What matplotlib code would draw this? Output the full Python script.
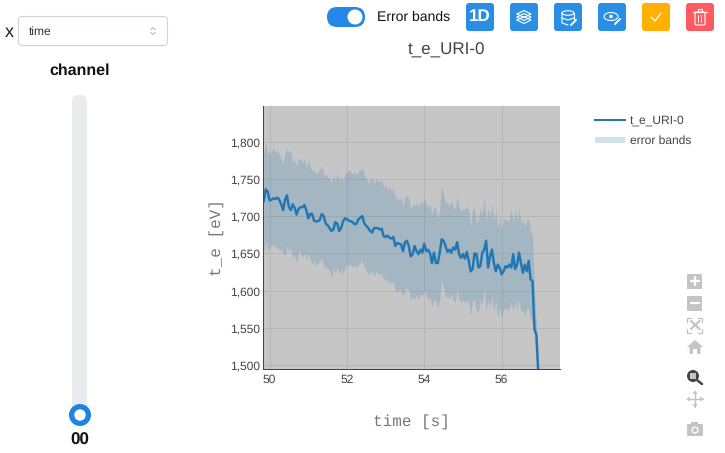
import matplotlib
matplotlib.use("Agg")
import matplotlib.pyplot as plt
import numpy as np
from matplotlib.patches import Circle, Ellipse, FancyBboxPatch, Polygon, Rectangle

plt.rcParams["font.family"] = ["Liberation Sans", "DejaVu Sans"]
plt.rcParams["text.hinting"] = "no_hinting"
plt.rcParams["text.hinting_factor"] = 1

# time grid of the trace, 49.85 .. 56.95 s
time_s = np.array([
    49.85, 49.90, 49.95, 50.00, 50.05, 50.10, 50.15, 50.20, 50.25, 50.30,
    50.35, 50.40, 50.45, 50.50, 50.55, 50.60, 50.65, 50.70, 50.75, 50.80,
    50.85, 50.90, 50.95, 51.00, 51.05, 51.10, 51.15, 51.20, 51.25, 51.30,
    51.35, 51.40, 51.45, 51.50, 51.55, 51.60, 51.65, 51.70, 51.75, 51.80,
    51.85, 51.90, 51.95, 52.00, 52.05, 52.10, 52.15, 52.20, 52.25, 52.30,
    52.35, 52.40, 52.45, 52.50, 52.55, 52.60, 52.65, 52.70, 52.75, 52.80,
    52.85, 52.90, 52.95, 53.00, 53.05, 53.10, 53.15, 53.20, 53.25, 53.30,
    53.35, 53.40, 53.45, 53.50, 53.55, 53.60, 53.65, 53.70, 53.75, 53.80,
    53.85, 53.90, 53.95, 54.00, 54.05, 54.10, 54.15, 54.20, 54.25, 54.30,
    54.35, 54.40, 54.45, 54.50, 54.55, 54.60, 54.65, 54.70, 54.75, 54.80,
    54.85, 54.90, 54.95, 55.00, 55.05, 55.10, 55.15, 55.20, 55.25, 55.30,
    55.35, 55.40, 55.45, 55.50, 55.55, 55.60, 55.65, 55.70, 55.75, 55.80,
    55.85, 55.90, 55.95, 56.00, 56.05, 56.10, 56.15, 56.20, 56.25, 56.30,
    56.35, 56.40, 56.45, 56.50, 56.55, 56.60, 56.65, 56.70, 56.75, 56.80,
    56.85, 56.90, 56.95,
])
t_e = np.array([
    1720, 1736, 1733, 1721, 1722, 1724, 1723, 1725, 1722, 1716,
    1708, 1722, 1728, 1712, 1708, 1716, 1711, 1702, 1710, 1712,
    1712, 1715, 1708, 1697, 1703, 1703, 1694, 1693, 1693, 1695,
    1703, 1700, 1690, 1688, 1684, 1680, 1682, 1692, 1690, 1680,
    1684, 1693, 1697, 1696, 1694, 1693, 1692, 1689, 1690, 1696,
    1698, 1700, 1690, 1687, 1684, 1680, 1678, 1684, 1684, 1684,
    1682, 1683, 1673, 1672, 1674, 1671, 1670, 1672, 1660, 1664,
    1663, 1662, 1653, 1665, 1667, 1660, 1646, 1649, 1660, 1653,
    1649, 1655, 1651, 1663, 1653, 1655, 1650, 1637, 1651, 1637,
    1637, 1651, 1669, 1667, 1660, 1652, 1655, 1651, 1658, 1655,
    1665, 1649, 1644, 1649, 1643, 1652, 1640, 1626, 1629, 1650,
    1649, 1631, 1633, 1651, 1655, 1667, 1631, 1646, 1655, 1637,
    1626, 1635, 1631, 1622, 1626, 1633, 1631, 1635, 1631, 1649,
    1629, 1635, 1651, 1637, 1624, 1635, 1626, 1640, 1615, 1613,
    1548, 1541, 1490,
])
t_e_upper = np.array([
    1785, 1798, 1785, 1785, 1787, 1791, 1786, 1788, 1783, 1776,
    1771, 1785, 1791, 1785, 1789, 1771, 1776, 1767, 1778, 1776,
    1771, 1778, 1765, 1776, 1767, 1760, 1762, 1756, 1760, 1762,
    1768, 1756, 1756, 1753, 1751, 1744, 1756, 1747, 1758, 1747,
    1753, 1747, 1756, 1760, 1761, 1759, 1756, 1759, 1756, 1760,
    1762, 1765, 1756, 1751, 1744, 1749, 1751, 1743, 1751, 1748,
    1746, 1749, 1738, 1742, 1735, 1740, 1733, 1738, 1726, 1723,
    1722, 1724, 1713, 1726, 1727, 1724, 1709, 1717, 1713, 1719,
    1713, 1720, 1717, 1724, 1717, 1713, 1715, 1702, 1712, 1711,
    1696, 1711, 1740, 1729, 1717, 1720, 1713, 1721, 1713, 1709,
    1726, 1713, 1705, 1711, 1709, 1713, 1709, 1686, 1711, 1709,
    1691, 1695, 1711, 1702, 1726, 1693, 1711, 1697, 1715, 1693,
    1709, 1684, 1700, 1682, 1695, 1697, 1693, 1695, 1709, 1691,
    1711, 1693, 1711, 1691, 1695, 1686, 1697, 1695, 1679, 1675,
    1600, 1555, 1505,
])
t_e_lower = np.array([
    1651, 1667, 1653, 1658, 1660, 1662, 1658, 1659, 1655, 1655,
    1651, 1646, 1662, 1651, 1658, 1642, 1649, 1637, 1653, 1651,
    1644, 1651, 1640, 1651, 1641, 1635, 1640, 1633, 1637, 1640,
    1644, 1632, 1633, 1629, 1628, 1617, 1631, 1622, 1633, 1622,
    1629, 1622, 1631, 1634, 1635, 1634, 1631, 1634, 1631, 1635,
    1637, 1640, 1632, 1626, 1621, 1625, 1626, 1619, 1626, 1623,
    1621, 1624, 1613, 1617, 1611, 1614, 1608, 1613, 1602, 1598,
    1602, 1600, 1591, 1602, 1604, 1600, 1586, 1593, 1588, 1595,
    1589, 1595, 1593, 1600, 1593, 1588, 1591, 1579, 1588, 1587,
    1576, 1588, 1614, 1604, 1591, 1593, 1588, 1595, 1588, 1584,
    1603, 1588, 1584, 1588, 1584, 1588, 1584, 1566, 1588, 1586,
    1571, 1573, 1588, 1582, 1604, 1573, 1588, 1577, 1593, 1573,
    1586, 1564, 1577, 1562, 1575, 1577, 1573, 1577, 1586, 1571,
    1588, 1573, 1588, 1571, 1575, 1566, 1577, 1575, 1562, 1557,
    1535, 1490, 1470,
])

x_ticks = [50, 52, 54, 56]
y_ticks = [1500, 1550, 1600, 1650, 1700, 1750, 1800]
y_tick_labels = ["1,500", "1,550", "1,600", "1,650", "1,700", "1,750", "1,800"]

LINE = "#1f77b4"
BLUE = "#2a8ee4"
ICON_GREY = "#c4c4c4"
TEXT_GREY = "#444444"
W, H = 725, 453

fig = plt.figure(figsize=(W / 100, H / 100), dpi=100)

# full-figure overlay in pixel coordinates, for the app controls around the plot
ui = fig.add_axes([0, 0, 1, 1])
ui.set_xlim(0, W)
ui.set_ylim(H, 0)
ui.axis("off")


def px(size):
    return size * 0.72


def rounded(x, y, w, h, r, **kw):
    ui.add_patch(FancyBboxPatch((x + r, y + r), w - 2 * r, h - 2 * r,
                                boxstyle=f"round,pad={r},rounding_size={r}", **kw))


def stroke(xs, ys, color="white", lw=1.0):
    ui.plot(xs, ys, color=color, lw=lw, solid_capstyle="round", solid_joinstyle="round")


# the plot itself
ax = fig.add_axes([263 / W, 1 - 368.7 / H, 297 / W, 263 / H])
ax.set_facecolor("#c6c6c6")
ax.fill_between(time_s, t_e_lower, t_e_upper, color=LINE, alpha=0.2, lw=0)
ax.plot(time_s, t_e, color=LINE, lw=px(2.4))
ax.set_xlim(49.83, 57.51)
ax.set_ylim(1495.3, 1848.2)
ax.set_xticks(x_ticks)
ax.set_yticks(y_ticks, y_tick_labels)
ax.grid(True, color="#b6b6b6", lw=px(1))
ax.set_axisbelow(True)
ax.tick_params(length=0, labelsize=px(12), labelcolor=TEXT_GREY)
ax.tick_params(axis="x", pad=px(5))
ax.tick_params(axis="y", pad=px(2.5))
for side in ("top", "right"):
    ax.spines[side].set_visible(False)
for side in ("left", "bottom"):
    ax.spines[side].set_color(TEXT_GREY)
    ax.spines[side].set_linewidth(px(1))

ui.text(446.5, 50.5, "t_e_URI-0", fontsize=px(17), color=TEXT_GREY, ha="center", va="center")
ui.text(411.5, 422, "time [s]", fontsize=px(16), color="#777777", ha="center", va="center",
        family="Liberation Mono")
ui.text(217, 238, "t_e [eV]", fontsize=px(16), color="#777777", ha="center", va="center",
        rotation=90, family="Liberation Mono")

# legend
ui.plot([595, 625], [120, 120], color=LINE, lw=px(2))
ui.add_patch(Rectangle((595, 137), 30, 6, color="#cfe0ee", lw=0))
ui.text(630, 121, "t_e_URI-0", fontsize=px(12), color=TEXT_GREY, va="center")
ui.text(630, 140.5, "error bands", fontsize=px(12), color=TEXT_GREY, va="center")

# left panel
ui.text(5, 32, "x", fontsize=px(18), color="#222222", va="center")
rounded(18.5, 16.5, 149, 29, 4, fc="white", ec="#cdd4dd", lw=0.8)
ui.text(29, 31.5, "time", fontsize=px(12), color="#333333", va="center")
stroke([150.8, 153, 155.2], [29.5, 27.5, 29.5], color="#b0b0b0", lw=0.7)
stroke([150.8, 153, 155.2], [32.5, 34.5, 32.5], color="#b0b0b0", lw=0.7)
ui.text(80, 70.5, "channel", fontsize=px(16), fontweight="bold", color="#111111",
        ha="center", va="center")
rounded(72, 95, 15, 320, 7, fc="#e9ecef", ec="none")
ui.add_patch(Circle((80, 415), 11, fc="#1f83e0", ec="none"))
ui.add_patch(Circle((80, 415), 5.7, fc="white", ec="none"))
ui.text(80, 440, "00", fontsize=px(17), fontweight="bold", color="#111111",
        ha="center", va="center")

# top bar: toggle and buttons
rounded(327, 7, 38, 20, 10, fc="#2587e8", ec="none")
ui.add_patch(Circle((355, 17), 7.5, fc="white", ec="none"))
ui.text(377, 17.5, "Error bands", fontsize=px(14), color="#111111", va="center")

button_x = [466, 510, 554, 598, 642, 686]
button_colors = [BLUE, BLUE, BLUE, BLUE, "#ffb000", "#ff5a5f"]
for bx, bc in zip(button_x, button_colors):
    rounded(bx, 3, 28, 28, 3, fc=bc, ec="none")
ui.text(480, 17, "1D", fontsize=px(17), fontweight="bold", color="white", ha="center", va="center")

# layers
for dy in (0, 3, 6):
    stroke([517, 524, 531, 524, 517], [14 + dy, 10.5 + dy, 14 + dy, 17.5 + dy, 14 + dy], lw=0.8)
# database + pencil
ui.add_patch(Ellipse((568, 13), 12, 4.5, fc="none", ec="white", lw=0.8))
stroke([562, 562, 568], [13, 23, 25], lw=0.8)
stroke([574, 574], [13, 19], lw=0.8)
stroke([562, 568, 574], [18, 20, 18], lw=0.8)
stroke([571, 576], [25, 20], lw=1.4)
# eye + pencil
ui.add_patch(Ellipse((611, 16.5), 14, 8, fc="none", ec="white", lw=0.8))
ui.add_patch(Circle((611, 16.5), 1.8, fc="white", ec="none"))
stroke([615, 620], [24, 19], lw=1.4)
# check
stroke([651, 655, 661], [17, 21, 13], lw=0.9)
# trash
rounded(695, 12, 10, 13, 1.5, fc="none", ec="white", lw=0.8)
stroke([693, 707], [11.5, 11.5], lw=0.9)
stroke([698, 698, 702, 702], [11, 9, 9, 11], lw=0.8)
stroke([698.5, 698.5], [15, 22], lw=0.7)
stroke([701.5, 701.5], [15, 22], lw=0.7)

# plotly modebar
ui.add_patch(Rectangle((687.5, 273.5), 15, 15, color=ICON_GREY, lw=0))
stroke([691, 699], [281, 281], lw=1.6)
stroke([695, 695], [277, 285], lw=1.6)
ui.add_patch(Rectangle((687.5, 295.5), 15, 15, color=ICON_GREY, lw=0))
stroke([691, 699], [303, 303], lw=1.6)
for sx, sy in ((687.5, 317.5), (702.5, 317.5), (702.5, 332.5), (687.5, 332.5)):
    dx = 4 if sx < 695 else -4
    dy = 4 if sy < 325 else -4
    ui.plot([sx + dx, sx, sx], [sy, sy, sy + dy], color=ICON_GREY, lw=0.9)
stroke([691, 699.5], [321, 329], color=ICON_GREY, lw=1.6)
stroke([691, 699.5], [329, 321], color=ICON_GREY, lw=1.6)
ui.add_patch(Polygon([(687, 347), (695, 340), (703, 347), (700.5, 347), (700.5, 354),
                      (697, 354), (697, 349), (693, 349), (693, 354), (689.5, 354), (689.5, 347)],
                     fc=ICON_GREY, ec="none"))
ui.add_patch(Circle((693, 376), 6, fc="#444444", ec="none"))
ui.add_patch(Rectangle((690, 373), 6, 6, fc=ICON_GREY, ec="none"))
stroke([697.5, 702], [380.5, 384], color="#444444", lw=1.8)
stroke([687, 703], [399, 399], color=ICON_GREY, lw=1.0)
stroke([695, 695], [391, 407], color=ICON_GREY, lw=1.0)
for tip, a, b in (((686.5, 399), (690, 396.5), (690, 401.5)), ((703.5, 399), (700, 396.5), (700, 401.5)),
                  ((695, 390.5), (692.5, 394), (697.5, 394)), ((695, 407.5), (692.5, 404), (697.5, 404))):
    ui.add_patch(Polygon([tip, a, b], fc=ICON_GREY, ec="none"))
rounded(687, 424, 16, 12, 1.5, fc=ICON_GREY, ec="none")
ui.add_patch(Rectangle((691.5, 422), 7, 3, fc=ICON_GREY, ec="none"))
ui.add_patch(Circle((695, 430), 3.6, fc="white", ec="none"))
ui.add_patch(Circle((695, 430), 2.3, fc=ICON_GREY, ec="none"))

fig.savefig("out.png", dpi=100)
